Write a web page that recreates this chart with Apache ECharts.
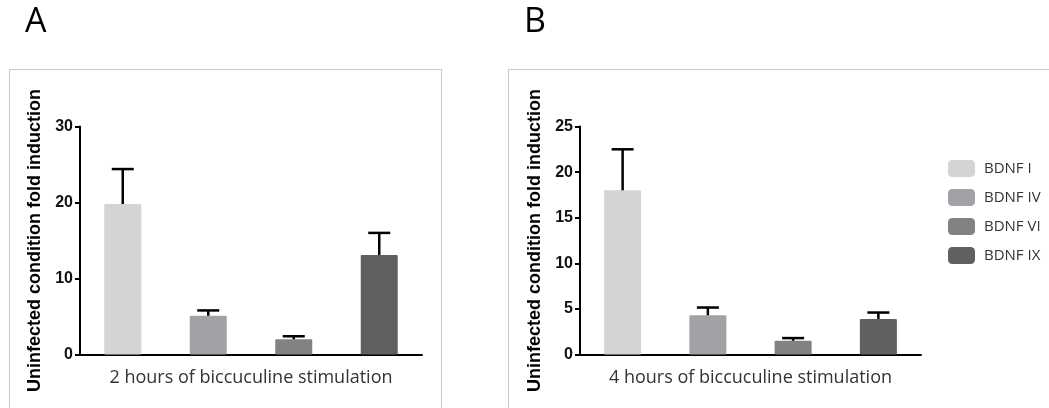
<!DOCTYPE html>
<html>
<head>
<meta charset="UTF-8">
<title>BDNF fold induction</title>
<script src="https://cdn.jsdelivr.net/npm/echarts@6/dist/echarts.min.js"></script>
<style>
  html, body { margin: 0; padding: 0; background: #fff; }
  #chart { width: 1049px; height: 408px; }
</style>
</head>
<body>
<div id="chart"></div>
<script type="text/javascript">
// transcripts (one bar each per panel)
var categories = ['BDNF I', 'BDNF IV', 'BDNF VI', 'BDNF IX'];
var colors = ['#d4d4d4', '#a2a2a6', '#828282', '#606060'];

// panel A: 2 hours of bicuculline
var valuesA = [19.8, 5.1, 2.0, 13.1];
var errA = [4.6, 0.7, 0.4, 2.9];
// panel B: 4 hours of bicuculline
var valuesB = [18.0, 4.3, 1.5, 3.9];
var errB = [4.5, 0.85, 0.3, 0.7];

var panelNames = ['2 hours of biccuculine stimulation', '4 hours of biccuculine stimulation'];
var yMax = [30, 25];
var yStep = [10, 5];

var chart = echarts.init(document.getElementById('chart'));

var grids = [
  {left: 80, top: 126.5, width: 342, height: 228},
  {left: 580, top: 126.5, width: 341, height: 228}
];

var xAxes = [], yAxes = [], series = [];
[[valuesA, errA], [valuesB, errB]].forEach(function (pair, p) {
  var vals = pair[0], errs = pair[1];
  xAxes.push({
    type: 'category',
    gridIndex: p,
    data: categories,
    name: panelNames[p],
    nameLocation: 'middle',
    nameGap: 14,
    nameTextStyle: {fontFamily: 'Open Sans', fontSize: 18, color: '#333'},
    axisLine: {lineStyle: {color: '#000', width: 2}},
    axisTick: {alignWithLabel: true, length: 5, lineStyle: {color: '#000', width: 2}},
    axisLabel: {show: false},
    splitLine: {show: false}
  });
  yAxes.push({
    type: 'value',
    gridIndex: p,
    min: 0,
    max: yMax[p],
    interval: yStep[p],
    name: 'Uninfected condition fold induction',
    nameLocation: 'middle',
    nameGap: 36,
    nameTextStyle: {fontFamily: 'Liberation Sans', fontWeight: 'bold', fontSize: 18, color: '#000'},
    axisLine: {show: true, lineStyle: {color: '#000', width: 2}},
    axisTick: {show: true, length: 5, lineStyle: {color: '#000', width: 2}},
    axisLabel: {fontFamily: 'Liberation Sans', fontWeight: 700, fontSize: 16, color: '#111', margin: 7},
    splitLine: {show: false}
  });
  categories.forEach(function (c, i) {
    series.push({
      type: 'bar',
      name: c,
      xAxisIndex: p,
      yAxisIndex: p,
      barWidth: 37,
      barGap: '-100%',
      itemStyle: {color: colors[i], borderRadius: 1},
      data: categories.map(function (cc, j) { return j === i ? vals[i] : '-'; })
    });
  });
  // error bars (mean + error, upward only)
  series.push({
    type: 'custom',
    xAxisIndex: p,
    yAxisIndex: p,
    silent: true,
    z: 5,
    data: vals.map(function (v, i) { return [i, v, v + errs[i]]; }),
    renderItem: function (params, api) {
      var lo = api.coord([api.value(0), api.value(1)]);
      var hi = api.coord([api.value(0), api.value(2)]);
      var st = {stroke: '#000', lineWidth: 2.5};
      return {
        type: 'group',
        children: [
          {type: 'line', shape: {x1: lo[0], y1: lo[1], x2: hi[0], y2: hi[1]}, style: st},
          {type: 'line', shape: {x1: hi[0] - 11, y1: hi[1], x2: hi[0] + 11, y2: hi[1]}, style: st}
        ]
      };
    }
  });
});

var option = {
  animation: false,
  backgroundColor: '#fff',
  grid: grids,
  xAxis: xAxes,
  yAxis: yAxes,
  legend: {
    orient: 'vertical',
    left: 943,
    top: 155,
    itemWidth: 27,
    itemHeight: 17,
    itemGap: 12,
    icon: 'roundRect',
    data: categories,
    textStyle: {fontFamily: 'Open Sans', fontSize: 15, color: '#333', padding: [0, 0, 0, 4]}
  },
  graphic: [
    {type: 'rect', shape: {x: 9.5, y: 69.5, width: 432, height: 400}, style: {fill: null, stroke: '#c8c8c8', lineWidth: 1}},
    {type: 'rect', shape: {x: 508.5, y: 69.5, width: 600, height: 400}, style: {fill: null, stroke: '#c8c8c8', lineWidth: 1}},
    {type: 'text', left: 25, top: 5, style: {text: 'A', font: '34px "Open Sans"', fill: '#000'}},
    {type: 'text', left: 524, top: 5, style: {text: 'B', font: '34px "Open Sans"', fill: '#000'}}
  ],
  series: series
};
chart.setOption(option);
</script>
</body>
</html>
